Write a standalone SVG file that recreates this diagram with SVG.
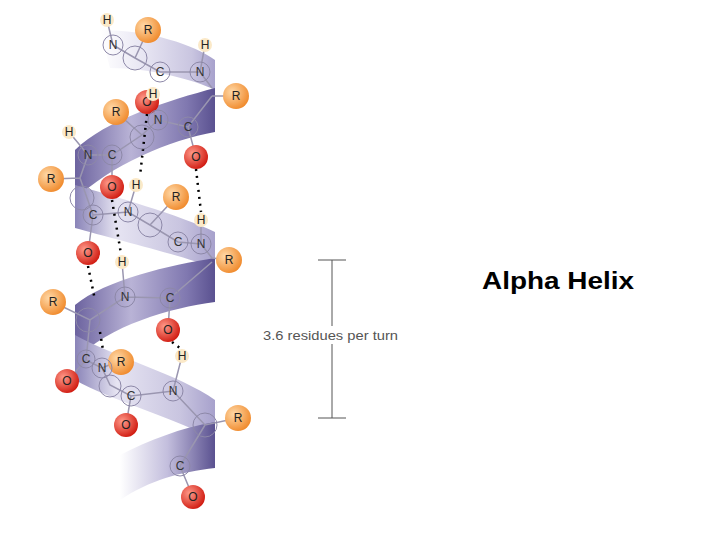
<svg xmlns="http://www.w3.org/2000/svg" width="720" height="540" viewBox="0 0 720 540">
<defs>
<linearGradient id="lt" x1="0" y1="0" x2="1" y2="0"><stop offset="0" stop-color="#8a84b8"/><stop offset="0.3" stop-color="#e6e4f2"/><stop offset="0.75" stop-color="#c9c5e0"/><stop offset="1" stop-color="#a7a1cc"/></linearGradient>
<linearGradient id="ltf" x1="0" y1="0" x2="1" y2="0"><stop offset="0" stop-color="#fff"/><stop offset="0.4" stop-color="#e6e4f2"/><stop offset="0.8" stop-color="#c9c5e0"/><stop offset="1" stop-color="#a7a1cc"/></linearGradient>
<linearGradient id="dk" x1="0" y1="0" x2="1" y2="0"><stop offset="0" stop-color="#6c639f"/><stop offset="0.4" stop-color="#b9b3d6"/><stop offset="0.8" stop-color="#8078b0"/><stop offset="1" stop-color="#5a5190"/></linearGradient>
<linearGradient id="dkf" x1="0" y1="0" x2="1" y2="0"><stop offset="0" stop-color="#fff"/><stop offset="0.5" stop-color="#c3bedd"/><stop offset="1" stop-color="#5a5190"/></linearGradient>
<radialGradient id="og" cx="0.35" cy="0.35" r="0.7"><stop offset="0" stop-color="#ffd9a8"/><stop offset="1" stop-color="#f08a2c"/></radialGradient>
<radialGradient id="rg" cx="0.35" cy="0.35" r="0.7"><stop offset="0" stop-color="#ff9a8a"/><stop offset="1" stop-color="#d01a10"/></radialGradient>
</defs>
<style>
.a{fill:none;stroke:#8d88a8;stroke-width:1}
.b{stroke:#9a96b0;stroke-width:1.5;fill:none}
.hb{stroke:#000;stroke-width:2.5;stroke-dasharray:2 5;fill:none}
.r{fill:url(#og)}
.o{fill:url(#rg)}
.h{fill:#fbe9c8}
.t{font-family:"Liberation Sans",Arial,sans-serif;font-size:12px;text-anchor:middle;fill:#333}
.tw{font-family:"Liberation Sans",Arial,sans-serif;font-size:12px;text-anchor:middle;fill:#222}
</style>
<rect width="720" height="540" fill="#fff"/>
<g id="ribbon">
<path d="M100 30 C150 30 195 45 215 60 L215 90 C195 80 150 68 110 68 Z" fill="url(#ltf)"/>
<path d="M215 88 L215 132 C170 140 110 165 75 200 L75 150 C105 120 170 100 215 88 Z" fill="url(#dk)"/>
<path d="M75 185 C110 195 180 215 215 232 L215 268 C180 255 110 238 75 228 Z" fill="url(#lt)"/>
<path d="M215 258 L215 302 C170 308 110 325 75 360 L75 305 C105 280 170 265 215 258 Z" fill="url(#dk)"/>
<path d="M75 335 C110 355 180 375 215 400 L215 440 C180 420 110 400 75 380 Z" fill="url(#lt)"/>
<path d="M215 422 L215 468 C180 472 150 480 120 500 L120 455 C150 440 180 428 215 422 Z" fill="url(#dkf)"/>
</g>
<g id="bonds">
<path class="b" d="M113 45 L135 58 L160 72 L200 72 L212 88 M148 30 L135 58 M200 72 L205 45 M113 45 L107 20 M212 96 L236 96 M212 96 L188 127 L158 120 L142 135 L112 155 L88 155 L69 132 M116 112 L142 135 M147 100 L158 120 M188 127 L196 157 M112 155 L112 187 M88 155 L80 178 L51 179 M80 178 L93 215 L128 212 L150 225 L178 242 L201 244 L212 258 M136 185 L128 212 M176 197 L150 225 M93 215 L88 253 M201 244 L201 220 M212 258 L229 260 M212 262 L170 298 L125 297 L90 320 L53 302 M122 262 L125 297 M170 298 L168 330 M90 320 L86 360 L102 368 L110 385 L131 396 L173 391 L205 425 L238 418 M86 360 L67 381 M102 368 L121 360 M131 396 L126 425 M173 391 L182 356 M205 425 L180 466 L193 497"/>
</g>
<g id="hbonds">
<path class="hb" d="M147 114 L140 176 M196 169 L201 212 M112 200 L121 254 M88 266 L95 300 M172 342 L180 348 M100 332 L103 350"/>
</g>
<g id="atoms">
<circle class="h" cx="107" cy="20" r="7"/><text class="tw" x="107" y="24">H</text>
<circle class="r" cx="148" cy="30" r="13"/><text class="tw" x="148" y="34">R</text>
<circle class="a" cx="113" cy="45" r="10"/><text class="t" x="113" y="49">N</text>
<circle class="h" cx="205" cy="45" r="7"/><text class="tw" x="205" y="49">H</text>
<circle class="a" cx="135" cy="58" r="12"/>
<circle class="a" cx="160" cy="72" r="10"/><text class="t" x="160" y="76">C</text>
<circle class="a" cx="200" cy="72" r="10"/><text class="t" x="200" y="76">N</text>
<circle class="o" cx="147" cy="102" r="12"/><text class="tw" x="147" y="106">O</text>
<circle class="h" cx="153" cy="94" r="7"/><text class="tw" x="153" y="98">H</text>
<circle class="r" cx="236" cy="96" r="13"/><text class="tw" x="236" y="100">R</text>
<circle class="r" cx="116" cy="112" r="13"/><text class="tw" x="116" y="116">R</text>
<circle class="a" cx="158" cy="120" r="10"/><text class="t" x="158" y="124">N</text>
<circle class="a" cx="188" cy="127" r="10"/><text class="t" x="188" y="131">C</text>
<circle class="a" cx="142" cy="137" r="12"/>
<circle class="h" cx="69" cy="132" r="7"/><text class="tw" x="69" y="136">H</text>
<circle class="a" cx="88" cy="155" r="10"/><text class="t" x="88" y="159">N</text>
<circle class="a" cx="112" cy="155" r="10"/><text class="t" x="112" y="159">C</text>
<circle class="o" cx="196" cy="157" r="12"/><text class="tw" x="196" y="161">O</text>
<circle class="r" cx="51" cy="179" r="13"/><text class="tw" x="51" y="183">R</text>
<circle class="a" cx="82" cy="198" r="12"/>
<circle class="o" cx="112" cy="187" r="12"/><text class="tw" x="112" y="191">O</text>
<circle class="h" cx="136" cy="185" r="7"/><text class="tw" x="136" y="189">H</text>
<circle class="r" cx="176" cy="197" r="13"/><text class="tw" x="176" y="201">R</text>
<circle class="a" cx="128" cy="212" r="10"/><text class="t" x="128" y="216">N</text>
<circle class="a" cx="93" cy="215" r="10"/><text class="t" x="93" y="219">C</text>
<circle class="a" cx="150" cy="225" r="12"/>
<circle class="h" cx="201" cy="220" r="7"/><text class="tw" x="201" y="224">H</text>
<circle class="a" cx="178" cy="242" r="10"/><text class="t" x="178" y="246">C</text>
<circle class="a" cx="201" cy="244" r="10"/><text class="t" x="201" y="248">N</text>
<circle class="o" cx="88" cy="253" r="12"/><text class="tw" x="88" y="257">O</text>
<circle class="r" cx="229" cy="260" r="13"/><text class="tw" x="229" y="264">R</text>
<circle class="h" cx="122" cy="262" r="7"/><text class="tw" x="122" y="266">H</text>
<circle class="r" cx="53" cy="302" r="13"/><text class="tw" x="53" y="306">R</text>
<circle class="a" cx="125" cy="297" r="10"/><text class="t" x="125" y="301">N</text>
<circle class="a" cx="170" cy="298" r="10"/><text class="t" x="170" y="302">C</text>
<circle class="a" cx="88" cy="320" r="12"/>
<circle class="o" cx="168" cy="330" r="12"/><text class="tw" x="168" y="334">O</text>
<circle class="h" cx="182" cy="356" r="7"/><text class="tw" x="182" y="360">H</text>
<circle class="r" cx="121" cy="362" r="13"/><text class="tw" x="121" y="366">R</text>
<circle class="a" cx="86" cy="359" r="9"/><text class="t" x="86" y="363">C</text>
<circle class="a" cx="102" cy="368" r="10"/><text class="t" x="102" y="372">N</text>
<circle class="o" cx="67" cy="381" r="12"/><text class="tw" x="67" y="385">O</text>
<circle class="a" cx="110" cy="386" r="11"/>
<circle class="a" cx="131" cy="396" r="10"/><text class="t" x="131" y="400">C</text>
<circle class="a" cx="173" cy="391" r="10"/><text class="t" x="173" y="395">N</text>
<circle class="o" cx="126" cy="425" r="12"/><text class="tw" x="126" y="429">O</text>
<circle class="a" cx="205" cy="425" r="12"/>
<circle class="r" cx="238" cy="418" r="13"/><text class="tw" x="238" y="422">R</text>
<circle class="a" cx="180" cy="466" r="10"/><text class="t" x="180" y="470">C</text>
<circle class="o" cx="193" cy="497" r="12"/><text class="tw" x="193" y="501">O</text>
</g>
<g id="scale" stroke="#555" stroke-width="1">
<line x1="332" y1="260" x2="332" y2="418"/>
<line x1="318" y1="260" x2="346" y2="260"/>
<line x1="318" y1="418" x2="346" y2="418"/>
</g>
<rect x="260" y="326" width="142" height="18" fill="#fff"/>
<text x="263" y="340" font-family="Liberation Sans,Arial,sans-serif" font-size="13" fill="#555" textLength="135" lengthAdjust="spacingAndGlyphs">3.6 residues per turn</text>
<text x="482" y="289" font-family="Liberation Sans,Arial,sans-serif" font-size="24" font-weight="bold" fill="#000" textLength="152" lengthAdjust="spacingAndGlyphs">Alpha Helix</text>
</svg>
